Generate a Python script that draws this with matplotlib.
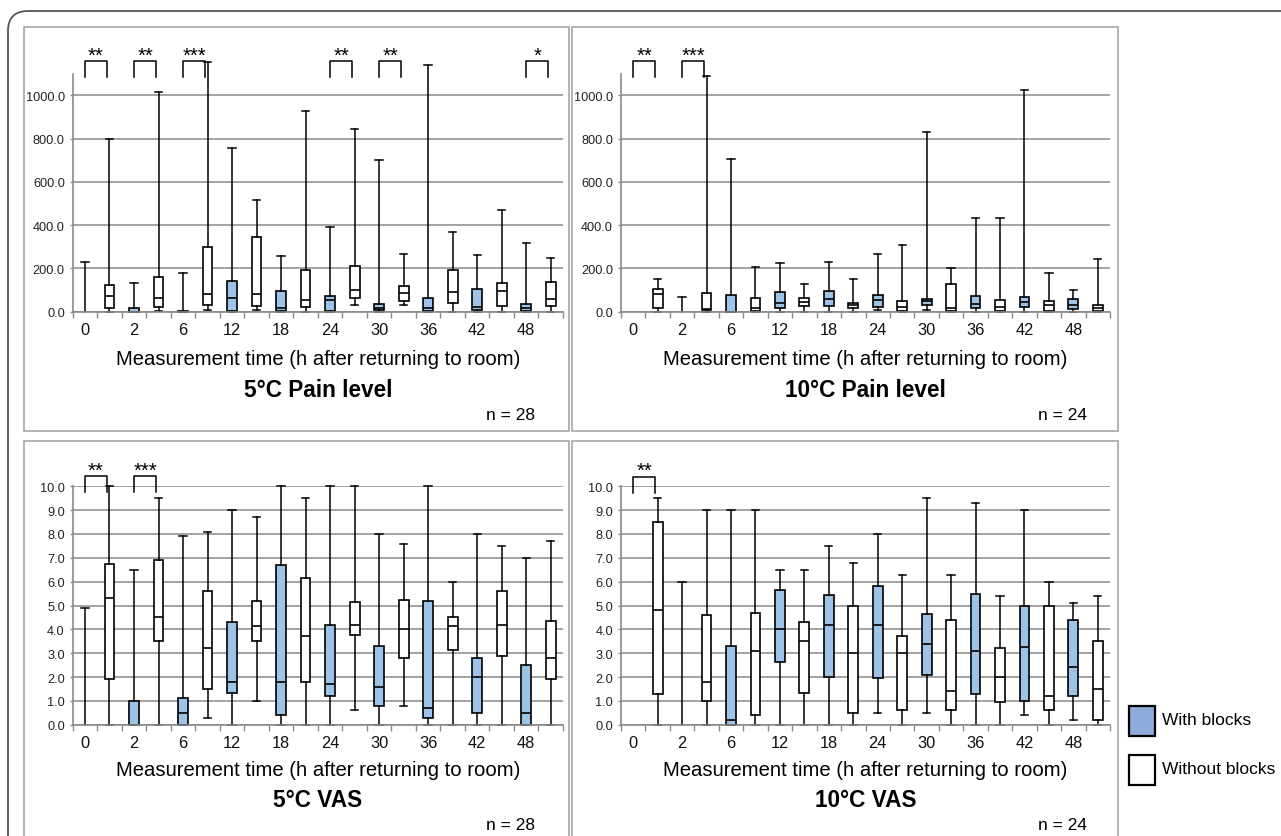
import numpy as np
import matplotlib
matplotlib.use("Agg")
import matplotlib.pyplot as plt
from matplotlib.patches import Rectangle, FancyBboxPatch
from matplotlib.ticker import FormatStrFormatter
import matplotlib.transforms as mtrans

plt.rcParams['font.family'] = ['Liberation Sans', 'DejaVu Sans']

TIMES = ['0', '2', '6', '12', '18', '24', '30', '36', '42', '48']

# rows: (min, q1, median, q3, max) for each measurement time
PAIN5_WITH = [(0, 0, 0, 0, 231), (0, 0, 0, 15, 132), (0, 0, 0, 5, 177),
              (0, 3, 63, 140, 755), (0, 3, 18, 97, 257), (0, 3, 55, 74, 392),
              (0, 9, 18, 37, 703), (0, 3, 18, 62, 1138), (0, 6, 23, 105, 262),
              (0, 3, 18, 37, 318)]
PAIN5_WITHOUT = [(0, 15, 71, 125, 797), (5, 20, 65, 160, 1015), (9, 31, 80, 297, 1154),
                 (6, 25, 80, 343, 514), (0, 22, 54, 194, 929), (31, 65, 98, 212, 843),
                 (31, 51, 86, 120, 268), (0, 40, 92, 191, 368), (0, 26, 95, 131, 471),
                 (0, 28, 60, 137, 248)]
PAIN10_WITH = [(0, 0, 0, 0, 0), (0, 0, 0, 0, 69), (0, 0, 0, 77, 706),
               (0, 15, 38, 92, 225), (0, 25, 60, 97, 232), (8, 20, 52, 77, 266),
               (8, 29, 49, 58, 831), (0, 18, 37, 72, 432), (0, 20, 45, 68, 1025),
               (0, 12, 31, 60, 102)]
PAIN10_WITHOUT = [(0, 15, 82, 103, 151), (0, 9, 12, 88, 1089), (0, 3, 18, 62, 206),
                  (0, 28, 45, 62, 128), (0, 15, 31, 38, 149), (0, 3, 23, 49, 306),
                  (0, 3, 15, 129, 202), (0, 3, 23, 52, 432), (0, 3, 29, 48, 177),
                  (0, 3, 15, 29, 242)]
VAS5_WITH = [(0, 0, 0, 0, 4.9), (0, 0, 0, 1.0, 6.5), (0, 0, 0.5, 1.1, 7.9),
             (0, 1.35, 1.8, 4.3, 9.0), (0, 0.4, 1.8, 6.7, 10.0), (0, 1.2, 1.7, 4.2, 10.0),
             (0, 0.77, 1.57, 3.3, 8.0), (0, 0.3, 0.7, 5.2, 10.0), (0, 0.5, 2.0, 2.8, 8.0),
             (0, 0, 0.5, 2.5, 7.0)]
VAS5_WITHOUT = [(0, 1.92, 5.3, 6.73, 10.0), (0, 3.5, 4.5, 6.9, 9.5), (0.3, 1.5, 3.2, 5.6, 8.1),
                (1.0, 3.5, 4.15, 5.2, 8.7), (0, 1.8, 3.7, 6.15, 9.5), (0.6, 3.75, 4.2, 5.15, 10.0),
                (0.8, 2.8, 4.0, 5.25, 7.6), (0, 3.13, 4.15, 4.52, 6.0), (0, 2.9, 4.2, 5.6, 7.5),
                (0, 1.9, 2.8, 4.35, 7.7)]
VAS10_WITH = [(0, 0, 0, 0, 0), (0, 0, 0, 0, 6.0), (0, 0, 0.2, 3.3, 9.0),
              (0, 2.65, 4.0, 5.65, 6.5), (0, 2.0, 4.2, 5.45, 7.5), (0.5, 1.95, 4.2, 5.8, 8.0),
              (0.5, 2.07, 3.4, 4.65, 9.5), (0, 1.3, 3.1, 5.5, 9.3), (0.4, 1.0, 3.25, 5.0, 9.0),
              (0.2, 1.2, 2.4, 4.4, 5.1)]
VAS10_WITHOUT = [(0, 1.3, 4.8, 8.5, 9.5), (0, 1.0, 1.8, 4.6, 9.0), (0, 0.4, 3.1, 4.7, 9.0),
                 (0, 1.35, 3.5, 4.3, 6.5), (0, 0.5, 3.0, 5.0, 6.8), (0, 0.6, 3.0, 3.7, 6.3),
                 (0, 0.6, 1.4, 4.4, 6.3), (0, 0.97, 2.0, 3.22, 5.4), (0, 0.6, 1.2, 5.0, 6.0),
                 (0, 0.2, 1.5, 3.5, 5.4)]

# significance: index of time pair, label
SIG_PAIN5 = [(0, '**'), (1, '**'), (2, '***'), (5, '**'), (6, '**'), (9, '*')]
SIG_PAIN10 = [(0, '**'), (1, '***')]
SIG_VAS5 = [(0, '**'), (1, '***')]
SIG_VAS10 = [(0, '**')]

TITLES = ['5°C Pain level', '10°C Pain level', '5°C VAS', '10°C VAS']
NS = ['n = 28', 'n = 24', 'n = 28', 'n = 24']
XLABEL = 'Measurement time (h after returning to room)'

W, H = 1281, 837
fig = plt.figure(figsize=(W / 100, H / 100), dpi=100)
fig.patch.set_facecolor('white')

GRID = '#8A8A8A'
BLUE = '#9DC3E6'


def fx(x):
    return x / W


def fy(y):
    return 1 - y / H


def add_axes(x0, x1, ytop, ybot):
    return fig.add_axes([fx(x0), fy(ybot), (x1 - x0) / W, (ybot - ytop) / H])


def to_stats(rows):
    return [dict(whislo=r[0], q1=r[1], med=r[2], q3=r[3], whishi=r[4], fliers=[]) for r in rows]


def draw_group(ax, rows, positions, face):
    res = ax.bxp(to_stats(rows), positions=positions, widths=0.4, capwidths=0.3,
                 patch_artist=True, showfliers=False, manage_ticks=False,
                 boxprops=dict(facecolor=face, edgecolor='black', linewidth=1.2, clip_on=False),
                 whiskerprops=dict(color='black', linewidth=1.1, clip_on=False),
                 capprops=dict(color='black', linewidth=1.1, clip_on=False),
                 medianprops=dict(color='black', linewidth=1.2, clip_on=False))
    for i, r in enumerate(rows):
        if r[4] == 0:
            for a in (res['boxes'][i], res['medians'][i], res['caps'][2 * i],
                      res['caps'][2 * i + 1], res['whiskers'][2 * i], res['whiskers'][2 * i + 1]):
                a.set_visible(False)
        elif r[3] == r[1]:
            for a in (res['boxes'][i], res['medians'][i], res['caps'][2 * i], res['whiskers'][2 * i]):
                a.set_visible(False)


def panel(ax, with_rows, without_rows, ymax, yticks, sig, br_bot, br_top):
    n = len(TIMES)
    pos_with = [2 * i for i in range(n)]
    pos_without = [2 * i + 1 for i in range(n)]
    ax.set_xlim(-0.5, 2 * n - 0.5)
    ax.set_ylim(0, ymax)
    ax.set_axisbelow(True)
    ax.yaxis.grid(True, color=GRID, linewidth=1.1)
    for s in ('top', 'right'):
        ax.spines[s].set_visible(False)
    for s in ('left', 'bottom'):
        ax.spines[s].set_color(GRID)
        ax.spines[s].set_linewidth(1.2)
    ax.set_yticks(yticks)
    ax.yaxis.set_major_formatter(FormatStrFormatter('%.1f'))
    ax.tick_params(axis='y', length=2.5, width=1, color=GRID, labelsize=9.2, pad=3.2, labelcolor='#222222')
    ax.set_xticks(pos_with)
    ax.set_xticklabels(TIMES)
    ax.set_xticks(np.arange(-0.5, 2 * n, 1.0), minor=True)
    ax.tick_params(axis='x', which='major', length=0, pad=7.5, labelsize=11.8, labelcolor='#111111')
    ax.tick_params(axis='x', which='minor', length=4, width=1, color=GRID)
    draw_group(ax, with_rows, pos_with, BLUE)
    draw_group(ax, without_rows, pos_without, 'white')
    for k, lab in sig:
        xl = pos_with[k]
        xr = pos_without[k] - 0.1
        ax.plot([xl, xl, xr, xr], [br_bot, br_top, br_top, br_bot], color='black',
                linewidth=1.1, clip_on=False, solid_joinstyle='round')
        ax.annotate(lab, xy=((xl + xr) / 2, br_top), xytext=(0, 0.5), textcoords='offset points',
                    ha='center', va='baseline', fontsize=14.5, annotation_clip=False)


# panel frames and outer frame
disp = mtrans.IdentityTransform()
outer = FancyBboxPatch((8, -200), 1500, H - 12 + 200, boxstyle='round,pad=0,rounding_size=20',
                       fill=False, edgecolor='#555555', linewidth=1.3, transform=disp)
fig.add_artist(outer)
for (x0, y0, x1, y1) in [(24, 28, 569, 432), (572, 28, 1117.5, 432),
                         (24, 442, 569, 900), (572, 442, 1117.5, 900)]:
    fig.add_artist(Rectangle((x0, H - y1), x1 - x0, y1 - y0, fill=False,
                             edgecolor='#A6A6A6', linewidth=1.2, transform=disp))

AX_X = [(72.7, 563), (621, 1110)]
top_y = (74.7, 312.7)
bot_y = (487.3, 725.7)

ax1 = add_axes(*AX_X[0], *top_y)
ax2 = add_axes(*AX_X[1], *top_y)
ax3 = add_axes(*AX_X[0], *bot_y)
ax4 = add_axes(*AX_X[1], *bot_y)

pain_ticks = np.arange(0, 1001, 200)
vas_ticks = np.arange(0, 10.01, 1.0)
panel(ax1, PAIN5_WITH, PAIN5_WITHOUT, 1100, pain_ticks, SIG_PAIN5, 1085, 1158)
panel(ax2, PAIN10_WITH, PAIN10_WITHOUT, 1100, pain_ticks, SIG_PAIN10, 1085, 1158)
panel(ax3, VAS5_WITH, VAS5_WITHOUT, 10, vas_ticks, SIG_VAS5, 9.75, 10.42)
panel(ax4, VAS10_WITH, VAS10_WITHOUT, 10, vas_ticks, SIG_VAS10, 9.7, 10.4)

# texts below each panel
for i, (xs, (yt, yb)) in enumerate([(AX_X[0], top_y), (AX_X[1], top_y), (AX_X[0], bot_y), (AX_X[1], bot_y)]):
    cx = (xs[0] + xs[1]) / 2
    base = yb
    off = (46.5, 77.5, 103) if i < 2 else (44.5, 74.5, 99.5)
    fig.text(fx(cx), fy(base + off[0]), XLABEL, ha='center', va='center', fontsize=14.6)
    fig.text(fx(cx), fy(base + off[1]), TITLES[i], ha='center', va='center', fontsize=16.3, fontweight='bold')
    nx = 535.5 if xs[0] < 300 else 1087
    fig.text(fx(nx), fy(base + off[2]), NS[i], ha='right', va='center', fontsize=12.5)

# legend
fig.add_artist(Rectangle((1128.5, H - 737), 26, 30, facecolor='#8FAADC', edgecolor='black',
                         linewidth=1.6, transform=disp))
fig.add_artist(Rectangle((1128.5, H - 786), 26, 30, facecolor='white', edgecolor='black',
                         linewidth=1.6, transform=disp))
fig.text(fx(1162), fy(721), 'With blocks', ha='left', va='center', fontsize=12.5)
fig.text(fx(1162), fy(770), 'Without blocks', ha='left', va='center', fontsize=12.5)

fig.savefig('out.png', dpi=100, facecolor='white')
